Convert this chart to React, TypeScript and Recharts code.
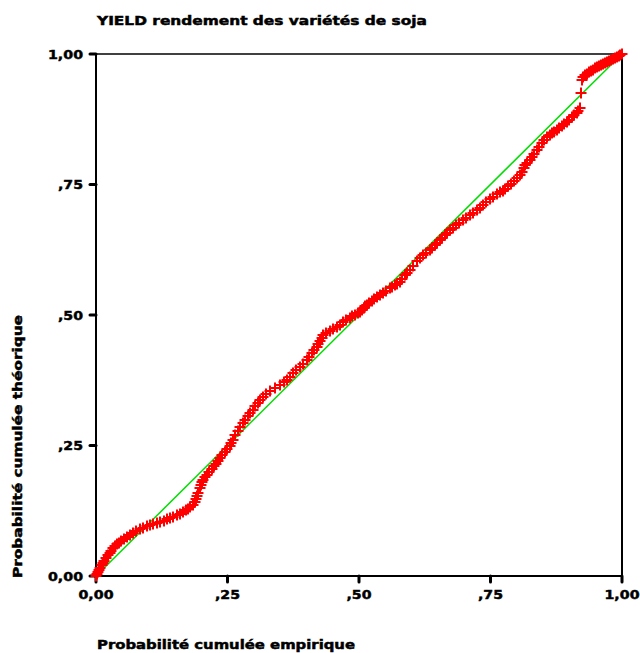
import React from 'react';
import { ScatterChart, Scatter, XAxis, YAxis, ReferenceLine } from 'recharts';

// Probabilité cumulée empirique (x) / théorique (y)
const empirique = [
  0.0, 0.0038, 0.0076, 0.0133, 0.019, 0.0266, 0.0323, 0.0399, 0.0475, 0.0589,
  0.0703, 0.0837, 0.097, 0.116, 0.1293, 0.1407, 0.154, 0.1654, 0.1749, 0.1844,
  0.1901, 0.1939, 0.1996, 0.2034, 0.211, 0.2205, 0.2281, 0.2357, 0.2452, 0.2548,
  0.2605, 0.27, 0.2795, 0.289, 0.2985, 0.308, 0.3175, 0.3308, 0.3498, 0.3631,
  0.3745, 0.3878, 0.4011, 0.4106, 0.4202, 0.4259, 0.4316, 0.4449, 0.4582, 0.4696,
  0.4829, 0.4924, 0.5019, 0.5095, 0.5152, 0.5247, 0.5342, 0.5456, 0.5589, 0.5684,
  0.5779, 0.5875, 0.597, 0.6103, 0.6217, 0.635, 0.6445, 0.654, 0.6635, 0.673,
  0.6844, 0.6977, 0.711, 0.7243, 0.7357, 0.749, 0.7624, 0.7738, 0.7833, 0.7947,
  0.8061, 0.8137, 0.8194, 0.8289, 0.8384, 0.8479, 0.8574, 0.8669, 0.8764, 0.8859,
  0.8954, 0.9049, 0.9144, 0.9202, 0.9221, 0.924, 0.9297, 0.9373, 0.9449, 0.9525,
  0.9601, 0.9677, 0.9753, 0.9829, 0.9905, 0.9962, 1.0,
];
const theorique = [
  0.0, 0.0077, 0.0153, 0.0249, 0.0345, 0.0441, 0.0536, 0.0613, 0.067, 0.0747,
  0.0824, 0.09, 0.0958, 0.1015, 0.1054, 0.1111, 0.1169, 0.1226, 0.1284, 0.136,
  0.1475, 0.159, 0.1743, 0.1839, 0.1935, 0.205, 0.2146, 0.2261, 0.2375, 0.249,
  0.2605, 0.2778, 0.2931, 0.3065, 0.318, 0.3314, 0.3429, 0.3544, 0.3659, 0.3755,
  0.3889, 0.4004, 0.4138, 0.4272, 0.4387, 0.4502, 0.4617, 0.4693, 0.477, 0.4866,
  0.4943, 0.5, 0.5057, 0.5134, 0.5192, 0.5268, 0.5345, 0.5421, 0.5517, 0.5575,
  0.5632, 0.5766, 0.5862, 0.6034, 0.6149, 0.6245, 0.6341, 0.6437, 0.6533, 0.6628,
  0.6724, 0.682, 0.6916, 0.7011, 0.7107, 0.7222, 0.7318, 0.7375, 0.7471, 0.7567,
  0.7682, 0.7816, 0.7912, 0.8027, 0.8161, 0.8295, 0.841, 0.8487, 0.8544, 0.8621,
  0.8697, 0.8793, 0.887, 0.8966, 0.9253, 0.9502, 0.9598, 0.9655, 0.9693, 0.9751,
  0.9789, 0.9828, 0.9866, 0.9904, 0.9943, 0.9981, 1.0,
];

// deuxième relevé, entre les précédents
const empirique2 = [
  0.0019, 0.0057, 0.0114, 0.0152, 0.0228, 0.0285, 0.0361, 0.0437, 0.0532, 0.0646,
  0.076, 0.0894, 0.1027, 0.1084, 0.1217, 0.135, 0.1464, 0.1597, 0.1711, 0.1787,
  0.1882, 0.192, 0.1977, 0.2015, 0.2072, 0.2148, 0.2243, 0.2319, 0.2395, 0.249,
  0.2567, 0.2643, 0.2738, 0.2833, 0.2928, 0.3023, 0.3118, 0.3232, 0.3403, 0.3574,
  0.3688, 0.3802, 0.3935, 0.4049, 0.4144, 0.4221, 0.4297, 0.4373, 0.4506, 0.4639,
  0.4753, 0.4867, 0.4981, 0.5057, 0.5114, 0.519, 0.5285, 0.5399, 0.5513, 0.5627,
  0.5722, 0.5817, 0.5913, 0.6027, 0.616, 0.6274, 0.6388, 0.6483, 0.6578, 0.6673,
  0.6787, 0.6901, 0.7034, 0.7167, 0.73, 0.7414, 0.7548, 0.7681, 0.7776, 0.789,
  0.8004, 0.8099, 0.8156, 0.8251, 0.8327, 0.8422, 0.8517, 0.8631, 0.8707, 0.8802,
  0.8897, 0.8992, 0.9087, 0.9163, 0.9259, 0.9335, 0.9411, 0.9487, 0.9563, 0.9639,
  0.9715, 0.9791, 0.9867, 0.9943,
];
const theorique2 = [
  0.0038, 0.0115, 0.0211, 0.0287, 0.0402, 0.0479, 0.0575, 0.0632, 0.0709, 0.0785,
  0.0862, 0.092, 0.0977, 0.0996, 0.1034, 0.1092, 0.113, 0.1188, 0.1264, 0.1322,
  0.1418, 0.1533, 0.1686, 0.1801, 0.1897, 0.1992, 0.2107, 0.2203, 0.2318, 0.2433,
  0.2548, 0.2701, 0.2854, 0.2989, 0.3123, 0.3257, 0.3372, 0.3487, 0.3602, 0.3716,
  0.3812, 0.3946, 0.4061, 0.4195, 0.433, 0.4444, 0.4559, 0.4655, 0.4732, 0.4808,
  0.4904, 0.4981, 0.5038, 0.5096, 0.5172, 0.523, 0.5307, 0.5383, 0.546, 0.5536,
  0.5594, 0.569, 0.5805, 0.5939, 0.6092, 0.6188, 0.6284, 0.6379, 0.6475, 0.6571,
  0.6667, 0.6762, 0.6858, 0.6954, 0.705, 0.7165, 0.7261, 0.7356, 0.7414, 0.751,
  0.7625, 0.7739, 0.7874, 0.7969, 0.8084, 0.8218, 0.8352, 0.8448, 0.8506, 0.8582,
  0.8659, 0.8736, 0.8831, 0.8908, 0.9559, 0.9617, 0.9674, 0.9732, 0.977, 0.9808,
  0.9847, 0.9885, 0.9923, 0.9962,
];

const ticks = [0, 0.25, 0.5, 0.75, 1];
const diagonale = [{ x: 0, y: 0 }, { x: 1, y: 1 }];

const points = [
  ...empirique.map((x, i) => ({ x, y: theorique[i] })),
  ...empirique2.map((x, i) => ({ x, y: theorique2[i] })),
];

const FONT = 'DejaVu Sans, sans-serif';

const formatTick = (v: number) => {
  if (v === 0) return '0,00';
  if (v === 1) return '1,00';
  return ',' + String(Math.round(v * 100)).padStart(2, '0');
};

const tickWidth = (s: string) => (s.length === 4 ? 35 : 25);

const txt = {
  fontFamily: FONT,
  fontWeight: 'bold' as const,
  fontSize: 13,
  fill: '#000',
  stroke: '#000',
  strokeWidth: 0.5,
};

const Plus = (props: any) => {
  const { cx, cy } = props;
  if (cx == null || cy == null) return <g />;
  return (
    <g stroke="#ff0000" strokeWidth={2}>
      <line x1={cx - 5.5} y1={cy} x2={cx + 5.5} y2={cy} />
      <line x1={cx} y1={cy - 5.5} x2={cx} y2={cy + 5.5} />
    </g>
  );
};

const YTick = (props: any) => {
  const { x, y, payload } = props;
  const s = formatTick(payload.value);
  return (
    <text x={x} y={y} dy="0.36em" textAnchor="end" {...txt}
      textLength={tickWidth(s)} lengthAdjust="spacingAndGlyphs">{s}</text>
  );
};

const XTick = (props: any) => {
  const { x, y, payload } = props;
  const s = formatTick(payload.value);
  return (
    <text x={x} y={y} dy="0.72em" textAnchor="middle" {...txt}
      textLength={tickWidth(s)} lengthAdjust="spacingAndGlyphs">{s}</text>
  );
};

const App: React.FC = () => {
  return (
    <div style={{ position: 'absolute', left: 0, top: 0, width: 640, height: 653, background: '#fff' }}>
      <ScatterChart width={640} height={653} margin={{ top: 54, right: 18, left: 36, bottom: 47 }}>
        <XAxis type="number" dataKey="x" domain={[0, 1]} ticks={ticks} height={30}
          axisLine={{ stroke: '#000', strokeWidth: 2 }}
          tickLine={{ stroke: '#000', strokeWidth: 3, strokeLinecap: 'round' }}
          tickSize={6} tickMargin={8} tick={<XTick />} interval={0} />
        <YAxis type="number" dataKey="y" domain={[0, 1]} ticks={ticks} width={60}
          axisLine={{ stroke: '#000', strokeWidth: 2 }}
          tickLine={{ stroke: '#000', strokeWidth: 3, strokeLinecap: 'round' }}
          tickSize={6} tickMargin={7} tick={<YTick />} interval={0} />
        <ReferenceLine y={1} stroke="#000" strokeWidth={1.5} />
        <ReferenceLine x={1} stroke="#000" strokeWidth={2} />
        <Scatter data={diagonale} line={{ stroke: '#00dd00', strokeWidth: 1.5 }} shape={() => <g />}
          isAnimationActive={false} />
        <Scatter data={points} shape={<Plus />} isAnimationActive={false} />
      </ScatterChart>
      <svg width={640} height={653} style={{ position: 'absolute', left: 0, top: 0, pointerEvents: 'none' }}>
        <text x={97} y={25} {...txt} textLength={330} lengthAdjust="spacingAndGlyphs">
          YIELD rendement des variétés de soja
        </text>
        <text x={97} y={649} {...txt} textLength={258} lengthAdjust="spacingAndGlyphs">
          Probabilité cumulée empirique
        </text>
        <text x={22} y={578} {...txt} transform="rotate(-90, 22, 578)" textLength={263}
          lengthAdjust="spacingAndGlyphs">
          Probabilité cumulée théorique
        </text>
      </svg>
    </div>
  );
};

export default App;
